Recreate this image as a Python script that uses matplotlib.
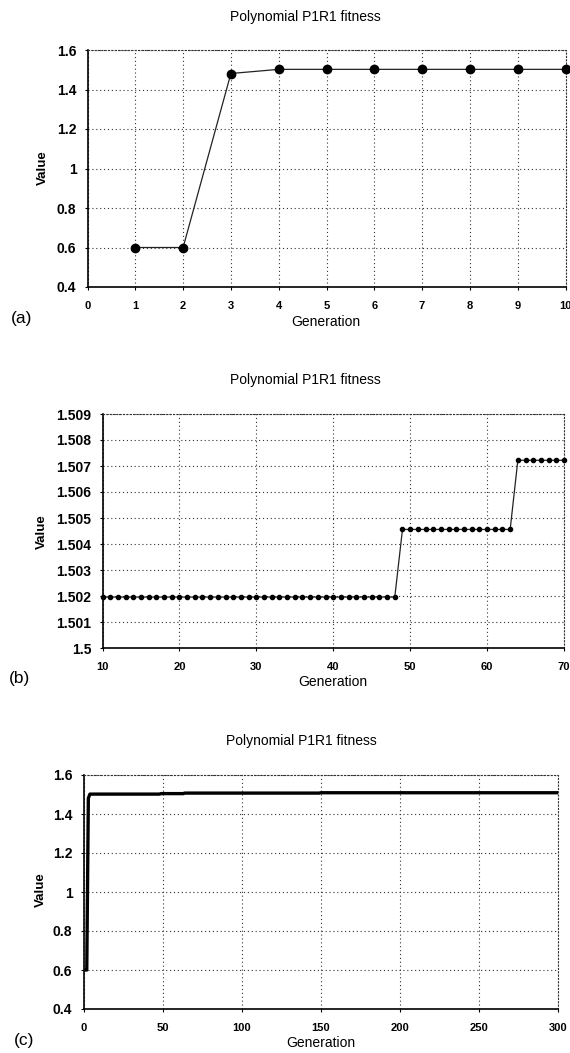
import matplotlib
matplotlib.use("Agg")
import matplotlib.pyplot as plt
import numpy as np

plt.rcParams['font.family'] = ['Liberation Sans', 'DejaVu Sans']

TITLE = "Polynomial P1R1 fitness"

# ---- panel (a) ----
gen_a = [1, 2, 3, 4, 5, 6, 7, 8, 9, 10]
val_a = [0.6, 0.6, 1.481, 1.502, 1.502, 1.502, 1.502, 1.502, 1.502, 1.502]
xticks_a = [0, 1, 2, 3, 4, 5, 6, 7, 8, 9, 10]
yticks_a = [0.4, 0.6, 0.8, 1.0, 1.2, 1.4, 1.6]
ylabels_a = ["0.4", "0.6", "0.8", "1", "1.2", "1.4", "1.6"]

# ---- panel (b) ----
gen_b = list(range(10, 71))
# step levels: (first generation, last generation, value)
steps_b_start = [10, 49, 64]
steps_b_end = [48, 63, 70]
steps_b_val = [1.50196, 1.50456, 1.50722]
xticks_b = [10, 20, 30, 40, 50, 60, 70]
yticks_b = [1.500, 1.501, 1.502, 1.503, 1.504, 1.505, 1.506, 1.507, 1.508, 1.509]
ylabels_b = ["1.5", "1.501", "1.502", "1.503", "1.504", "1.505", "1.506", "1.507", "1.508", "1.509"]

# ---- panel (c) ----
steps_c_start = [1, 3, 4, 49, 64, 150]
steps_c_end = [2, 3, 48, 63, 149, 300]
steps_c_val = [0.6, 1.481, 1.502, 1.50456, 1.50722, 1.509]
xticks_c = [0, 50, 100, 150, 200, 250, 300]
yticks_c = yticks_a
ylabels_c = ylabels_a


def expand(starts, ends, vals):
    xs, ys = [], []
    for s, e, v in zip(starts, ends, vals):
        for g in range(s, e + 1):
            xs.append(g)
            ys.append(v)
    return xs, ys


val_b = expand(steps_b_start, steps_b_end, steps_b_val)[1]
gen_c, val_c = expand(steps_c_start, steps_c_end, steps_c_val)

W, H = 570, 1053
fig = plt.figure(figsize=(W / 100, H / 100), dpi=100)


def px_axes(l, r, t, b):
    return fig.add_axes([l / W, 1 - b / H, (r - l) / W, (b - t) / H])


def style(ax, xticks, yticks, ylabels, xlim, ylim):
    ax.set_xlim(*xlim)
    ax.set_ylim(*ylim)
    ax.set_xticks(xticks)
    ax.set_xticklabels([str(t) for t in xticks])
    ax.set_yticks(yticks)
    ax.set_yticklabels(ylabels)
    ax.grid(True, color="#333333", linestyle=(0, (1, 2.5)), linewidth=0.8)
    for s in ("top", "right"):
        ax.spines[s].set_linestyle((0, (1, 2)))
        ax.spines[s].set_linewidth(0.8)
        ax.spines[s].set_color("#333333")
    for s in ("left", "bottom"):
        ax.spines[s].set_linewidth(1.2)
        ax.spines[s].set_color("black")
    ax.tick_params(axis="x", length=2, pad=8, labelsize=8)
    ax.tick_params(axis="y", length=2, pad=6, labelsize=10)
    for lab in ax.get_xticklabels() + ax.get_yticklabels():
        lab.set_fontweight("bold")
    ax.set_axisbelow(True)


# panel (a)
ax1 = px_axes(87.5, 565.5, 50, 287)
ax1.plot(gen_a, val_a, color="#222222", linewidth=0.9, marker="o",
         markersize=6, markerfacecolor="black", markeredgecolor="black",
         clip_on=False, zorder=3)
style(ax1, xticks_a, yticks_a, ylabels_a, (0, 10), (0.4, 1.6))

# panel (b)
ax2 = px_axes(102.5, 564, 414, 648)
ax2.plot(gen_b, val_b, color="#222222", linewidth=0.9, marker="o",
         markersize=3, markerfacecolor="black", markeredgecolor="black",
         clip_on=False, zorder=3)
style(ax2, xticks_b, yticks_b, ylabels_b, (10, 70), (1.5, 1.509))

# panel (c)
ax3 = px_axes(83.6, 558, 775, 1009)
ax3.plot(gen_c, val_c, color="black", linewidth=2.4, zorder=3)
style(ax3, xticks_c, yticks_c, ylabels_c, (0, 300), (0.4, 1.6))

# titles, axis labels
for (tx, ty, lx, gy, vx, vy) in [
    (305, 17, 326, 322, 43, 168),
    (305, 380, 333, 682, 42, 532),
    (301, 741, 321, 1043, 41, 890),
]:
    fig.text(tx / W, 1 - ty / H, TITLE, ha="center", va="center", fontsize=10,
             fontweight="medium")
    fig.text(lx / W, 1 - gy / H, "Generation", ha="center", va="center", fontsize=10)
    fig.text(vx / W, 1 - vy / H, "Value", ha="center", va="center", fontsize=9.5,
             rotation=90, fontweight="bold")
for letter, (x, y) in zip(["(a)", "(b)", "(c)"], [(22, 318), (20, 678), (24, 1040)]):
    fig.text(x / W, 1 - y / H, letter, ha="center", va="center", fontsize=12.5)

fig.savefig("out.png", dpi=100)
